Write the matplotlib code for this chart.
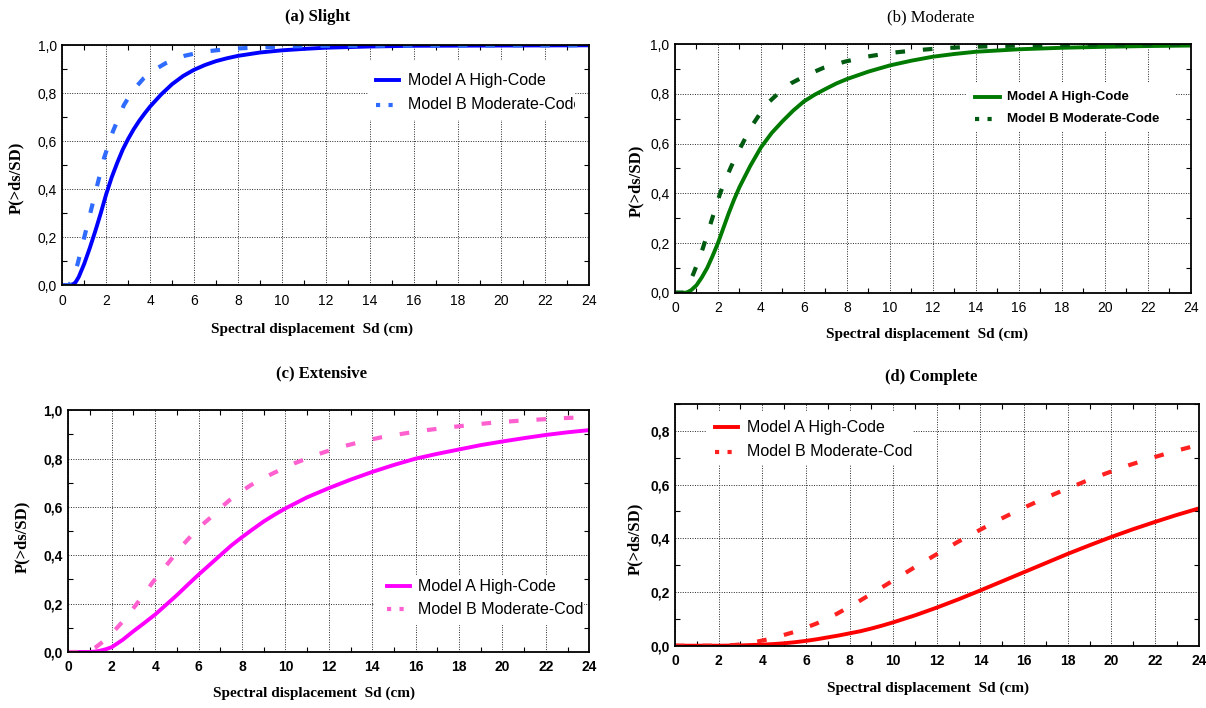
import matplotlib
matplotlib.use('Agg')
import matplotlib.pyplot as plt
from matplotlib.patches import Rectangle
from matplotlib.lines import Line2D
from matplotlib.ticker import MultipleLocator, FuncFormatter

# (a) Slight
xa_A = [0, 0.3, 0.5, 0.6, 0.75, 1.0, 1.25, 1.5, 1.75, 2.0, 2.25, 2.5, 2.75, 3.0, 3.25, 3.5, 3.75, 4.0,
        4.5, 5.0, 5.5, 6.0, 6.5, 7.0, 7.5, 8.0, 9.0, 10.0, 11.0, 12.0, 14.0, 16.0, 20.0, 24.0]
ya_A = [0, 0.0, 0.005, 0.012, 0.035, 0.09, 0.155, 0.225, 0.30, 0.38, 0.45, 0.51, 0.565, 0.61, 0.65, 0.685, 0.716, 0.745,
        0.795, 0.838, 0.872, 0.898, 0.918, 0.934, 0.946, 0.956, 0.97, 0.979, 0.985, 0.99, 0.995, 0.998, 0.999, 1.0]
xa_B = [0, 0.3, 0.45, 0.6, 0.7, 0.85, 1.0, 1.15, 1.3, 1.45, 1.6, 1.75, 1.9, 2.1, 2.3, 2.55, 2.8, 3.2, 3.7,
        4.2, 4.7, 5.2, 5.6, 6.1, 6.6, 7.6, 8.7, 10.0, 12.0, 24.0]
ya_B = [0, 0.0, 0.02, 0.06, 0.09, 0.145, 0.20, 0.255, 0.31, 0.365, 0.42, 0.475, 0.53, 0.585, 0.64, 0.695, 0.75, 0.81, 0.862,
        0.898, 0.925, 0.945, 0.957, 0.967, 0.975, 0.985, 0.99, 0.995, 0.998, 1.0]

# (b) Moderate
xb_A = [0, 0.5, 0.6, 0.75, 1.0, 1.25, 1.5, 1.75, 2.0, 2.25, 2.5, 2.75, 3.0, 3.5, 4.0, 4.5, 5.0, 5.5, 6.0, 6.5,
        7.0, 7.5, 8.0, 9.0, 10.0, 11.0, 12.0, 13.0, 14.0, 16.0, 18.0, 20.0, 22.0, 24.0]
yb_A = [0, 0.0, 0.003, 0.01, 0.03, 0.062, 0.10, 0.148, 0.20, 0.26, 0.32, 0.375, 0.425, 0.51, 0.585, 0.643, 0.69, 0.733, 0.77, 0.797,
        0.82, 0.842, 0.86, 0.89, 0.915, 0.934, 0.95, 0.961, 0.97, 0.98, 0.986, 0.99, 0.993, 0.995]
xb_B = [0, 0.4, 0.6, 0.85, 1.1, 1.3, 1.5, 1.7, 1.9, 2.1, 2.35, 2.6, 2.9, 3.2, 3.55, 3.95, 4.4, 4.9, 5.4, 6.0,
        6.5, 6.9, 7.9, 8.9, 10.0, 11.1, 12.2, 13.3, 14.3, 16.0, 18.0, 20.0, 24.0]
yb_B = [0, 0.0, 0.025, 0.075, 0.13, 0.18, 0.235, 0.29, 0.345, 0.40, 0.455, 0.505, 0.56, 0.61, 0.668, 0.72, 0.77, 0.81, 0.843, 0.87,
        0.89, 0.905, 0.93, 0.95, 0.965, 0.975, 0.983, 0.988, 0.991, 0.995, 0.997, 0.998, 1.0]

# (c) Extensive
xc_A = [0, 1.0, 1.25, 1.5, 1.75, 2.0, 2.5, 3.0, 3.5, 4.0, 4.5, 5.0, 5.5, 6.0, 6.5, 7.0, 7.5, 8.0, 8.5, 9.0, 9.5,
        10.0, 11.0, 12.0, 13.0, 14.0, 15.0, 16.0, 17.0, 18.0, 19.0, 20.0, 21.0, 22.0, 23.0, 24.0]
yc_A = [0, 0.0, 0.002, 0.006, 0.012, 0.02, 0.05, 0.086, 0.12, 0.155, 0.195, 0.235, 0.278, 0.32, 0.36, 0.40, 0.44, 0.475, 0.508, 0.54, 0.568,
        0.594, 0.64, 0.678, 0.713, 0.745, 0.774, 0.80, 0.82, 0.838, 0.856, 0.871, 0.885, 0.898, 0.909, 0.918]
xc_B = [0, 0.8, 1.0, 1.27, 1.7, 2.1, 2.6, 3.04, 3.5, 3.9, 4.35, 4.8, 5.25, 5.7, 6.15, 6.6, 7.0, 7.45, 7.9, 8.4,
        8.9, 9.4, 10.4, 11.4, 12.4, 13.5, 14.4, 15.6, 16.6, 17.6, 18.7, 19.7, 20.8, 21.9, 22.9, 24.0]
yc_B = [0, 0.0, 0.006, 0.02, 0.05, 0.086, 0.135, 0.186, 0.24, 0.29, 0.34, 0.39, 0.44, 0.485, 0.525, 0.56, 0.595, 0.63, 0.66, 0.69,
        0.715, 0.738, 0.78, 0.815, 0.845, 0.87, 0.888, 0.906, 0.919, 0.93, 0.941, 0.95, 0.957, 0.963, 0.968, 0.972]

# (d) Complete
xd_A = [0, 2, 3, 4, 4.5, 5, 5.5, 6, 6.5, 7, 7.5, 8, 8.5, 9, 9.5, 10, 11, 12, 13, 14, 15, 16, 17, 18, 19, 20,
        21, 22, 23, 24]
yd_A = [0, 0.0, 0.001, 0.004, 0.006, 0.009, 0.013, 0.018, 0.024, 0.031, 0.038, 0.046, 0.054, 0.064, 0.075, 0.087, 0.113,
        0.142, 0.173, 0.206, 0.24, 0.274, 0.308, 0.342, 0.374, 0.405, 0.434, 0.461, 0.487, 0.511]
xd_B = [0, 2.2, 2.8, 3.4, 4.4, 5.5, 6.5, 7.4, 8.3, 9.2, 10.1, 11.0, 12.0, 12.95, 13.9, 14.8, 15.8, 16.8, 17.8,
        18.8, 19.8, 20.8, 21.8, 22.8, 24.0]
yd_B = [0, 0.0, 0.003, 0.009, 0.026, 0.052, 0.083, 0.118, 0.159, 0.203, 0.248, 0.293, 0.341, 0.386, 0.428, 0.467, 0.507,
        0.544, 0.579, 0.612, 0.643, 0.672, 0.698, 0.722, 0.748]

labels = ['Model A High-Code', 'Model B Moderate-Code']
titles = ['(a) Slight', '(b) Moderate', '(c) Extensive', '(d) Complete']

W, H = 1206, 708
SERIF = 'Liberation Serif'
SANS = 'Liberation Sans'
DOTS = (0, (2.3, 4.3))


def fx(px):
    return px / W


def fy(py):
    return 1 - py / H


def comma(v, pos):
    return f'{v:.1f}'.replace('.', ',')


def make_axes(l, t, r, b, ymax, bold_ticks):
    ax = fig.add_axes([fx(l), fy(b), fx(r - l), (b - t) / H])
    ax.set_xlim(0, 24)
    ax.set_ylim(0, ymax)
    ax.xaxis.set_major_locator(MultipleLocator(2))
    ax.xaxis.set_minor_locator(MultipleLocator(1))
    ax.yaxis.set_major_locator(MultipleLocator(0.2))
    ax.yaxis.set_minor_locator(MultipleLocator(0.1))
    ax.yaxis.set_major_formatter(FuncFormatter(comma))
    ax.set_axisbelow(True)
    ax.grid(True, which='major', color='0.15', ls=(0, (1, 1.5)), lw=0.7)
    ax.tick_params(which='both', direction='in', top=True, right=True, labelsize=10)
    ax.tick_params(axis='x', pad=6)
    ax.tick_params(axis='y', pad=4)
    ax.tick_params(which='major', length=0)
    ax.tick_params(which='minor', length=3.5, width=0.8)
    for s in ax.spines.values():
        s.set_linewidth(1.3)
    for lab in ax.get_xticklabels() + ax.get_yticklabels():
        lab.set_fontfamily(SANS)
        lab.set_fontweight('bold' if bold_ticks else 'normal')
    return ax


def key(ax, box, rows, hx, tx, colors, font):
    rect = Rectangle((box[0], box[1]), box[2] - box[0], box[3] - box[1], transform=ax.transAxes,
                     facecolor='white', edgecolor='none', zorder=3)
    ax.add_patch(rect)
    styles = [dict(color=colors[0], lw=2.8, ls='-'),
              dict(color=colors[1], lw=3.0, ls=(0, (1, 2)))]
    for y, lab, st in zip(rows, labels, styles):
        ax.add_line(Line2D(hx, [y, y], transform=ax.transAxes, zorder=4, **st))
        t = ax.text(tx, y, lab, transform=ax.transAxes, va='center', ha='left', zorder=4,
                    clip_on=True, **font)
        t.set_clip_path(rect)


fig = plt.figure(figsize=(W / 100, H / 100), dpi=100)

axa = make_axes(62.3, 45.3, 589.3, 285.3, 1.0, False)
axa.plot(xa_A, ya_A, color='#0000ff', lw=2.8, zorder=2)
axa.plot(xa_B, ya_B, color='#2f6bff', lw=3.0, ls=DOTS, zorder=2)
key(axa, (0.58, 0.69, 0.972, 0.933), [0.854, 0.753], [0.596, 0.638], 0.656,
    ['#0000ff', '#2f6bff'], dict(fontsize=11.5, fontfamily=SANS))

axb = make_axes(675, 44.3, 1190.7, 292.7, 1.0, False)
axb.plot(xb_A, yb_A, color='#007a00', lw=2.8, zorder=2)
axb.plot(xb_B, yb_B, color='#005a10', lw=3.0, ls=DOTS, zorder=2)
key(axb, (0.567, 0.647, 0.969, 0.843), [0.789, 0.699], [0.582, 0.63], 0.644,
    ['#007a00', '#005a10'], dict(fontsize=9.6, fontweight='bold', fontfamily=SANS))

axc = make_axes(68.3, 410.3, 589.3, 652.0, 1.0, True)
axc.plot(xc_A, yc_A, color='#ff00ff', lw=2.8, zorder=2)
axc.plot(xc_B, yc_B, color='#ff60d0', lw=3.0, ls=DOTS, zorder=2)
key(axc, (0.586, 0.113, 0.989, 0.319), [0.273, 0.177], [0.612, 0.655], 0.671,
    ['#ff00ff', '#ff60d0'], dict(fontsize=11.5, fontfamily=SANS))

axd = make_axes(675, 404.0, 1198.7, 645.7, 0.9, True)
axd.plot(xd_A, yd_A, color='#ff0000', lw=2.8, zorder=2)
axd.plot(xd_B, yd_B, color='#ff2020', lw=3.0, ls=DOTS, zorder=2)
key(axd, (0.0605, 0.748, 0.455, 0.967), [0.903, 0.803], [0.076, 0.12], 0.138,
    ['#ff0000', '#ff2020'], dict(fontsize=11.5, fontfamily=SANS))

# titles and axis labels, placed like the original figure
title_pos = [(318, 17), (931, 17), (321, 373), (931, 377)]
title_w = ['bold', 'normal', 'bold', 'bold']
xlab_pos = [(312, 329), (927, 334), (314, 693), (928, 688)]
ylab_pos = [(16, 178), (636, 181), (22, 537), (635, 539)]

for i in range(4):
    fig.text(fx(title_pos[i][0]), fy(title_pos[i][1]), titles[i], ha='center', va='center',
             fontfamily=SERIF, fontweight=title_w[i], fontsize=12)
    fig.text(fx(xlab_pos[i][0]), fy(xlab_pos[i][1]), 'Spectral displacement  Sd (cm)',
             ha='center', va='center', fontfamily=SERIF, fontweight='bold', fontsize=11)
    fig.text(fx(ylab_pos[i][0]), fy(ylab_pos[i][1]), 'P(>ds/SD)', ha='center', va='center',
             rotation=90, fontfamily=SERIF, fontweight='bold', fontsize=12)

fig.savefig('out.png', dpi=100)
